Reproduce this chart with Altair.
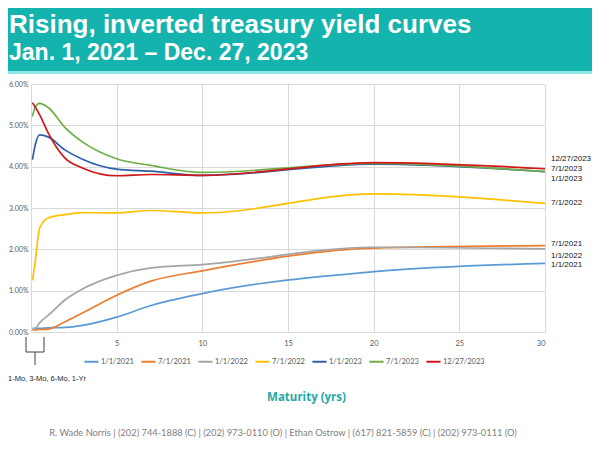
import altair as alt
import pandas as pd

# ---------------- data ----------------
maturities = [1/12, 0.25, 0.5, 1, 2, 3, 5, 7, 10, 20, 30]
series_names = ["1/1/2021", "7/1/2021", "1/1/2022", "7/1/2022",
                "1/1/2023", "7/1/2023", "12/27/2023"]
yields_2021_01 = [0.09, 0.09, 0.09, 0.10, 0.11, 0.16, 0.36, 0.64, 0.93, 1.46, 1.66]
yields_2021_07 = [0.05, 0.05, 0.06, 0.07, 0.25, 0.46, 0.89, 1.23, 1.48, 2.03, 2.09]
yields_2022_01 = [0.05, 0.08, 0.22, 0.40, 0.78, 1.04, 1.37, 1.55, 1.63, 2.05, 2.01]
yields_2022_07 = [1.25, 1.72, 2.51, 2.76, 2.84, 2.89, 2.88, 2.94, 2.88, 3.34, 3.11]
yields_2023_01 = [4.17, 4.53, 4.77, 4.72, 4.40, 4.18, 3.94, 3.89, 3.79, 4.06, 3.88]
yields_2023_07 = [5.22, 5.44, 5.53, 5.43, 4.94, 4.60, 4.19, 4.03, 3.86, 4.08, 3.88]
yields_2023_12 = [5.55, 5.44, 5.26, 4.82, 4.20, 3.97, 3.78, 3.81, 3.79, 4.10, 3.95]
all_yields = [yields_2021_01, yields_2021_07, yields_2022_01, yields_2022_07,
              yields_2023_01, yields_2023_07, yields_2023_12]

series_colors = ["#5B9BD5", "#ED7D31", "#A5A5A5", "#FFC000",
                 "#2F5FAA", "#70AD47", "#D01818"]
# level (in %) at which each right-hand label sits
label_levels = [1.62, 2.14, 1.84, 3.12, 3.70, 3.94, 4.19]

x_ticks = [0, 5, 10, 15, 20, 25, 30]
y_ticks = [0, 1, 2, 3, 4, 5, 6]

title_text = "Rising, inverted treasury yield curves"
subtitle_text = "Jan. 1, 2021 \u2013 Dec. 27, 2023"
bracket_text = "1-Mo, 3-Mo, 6-Mo, 1-Yr"
x_title = "Maturity (yrs)"
footer_text = ("R. Wade Norris | (202) 744-1888 (C) | (202) 973-0110 (O) | "
               "Ethan Ostrow | (617) 821-5859 (C) | (202) 973-0111 (O)")

rows = []
for name, vals in zip(series_names, all_yields):
    for m, v in zip(maturities, vals):
        rows.append({"date": name, "maturity": m, "yield": v})
df = pd.DataFrame(rows)

end_df = pd.DataFrame({
    "date": series_names,
    "maturity": [maturities[-1]] * len(series_names),
    "yield": label_levels,
})

# ---------------- encodings ----------------
TEAL = "#14B3AD"
x_enc = alt.X(
    "maturity:Q",
    scale=alt.Scale(domain=[0, 30], nice=False, zero=False),
    axis=alt.Axis(
        values=x_ticks, labelExpr="datum.value == 0 ? '' : datum.label",
        grid=True, gridColor="#D9D9D9", ticks=False, domain=False,
        labelFont="Lato", labelFontSize=7.5, labelColor="#595959", labelPadding=7,
        title=x_title, titleFont="Open Sans", titleFontSize=11.5,
        titleFontWeight="bold", titleColor="#1FA9A6",
        titleX=275, titleY=65, titleBaseline="middle",
    ),
)
y_enc = alt.Y(
    "yield:Q",
    scale=alt.Scale(domain=[0, 6], nice=False),
    axis=alt.Axis(
        values=y_ticks, labelExpr="format(datum.value, '.2f') + '%'",
        grid=True, gridColor="#D9D9D9", ticks=False, domain=False,
        labelFont="Lato", labelFontSize=7, labelColor="#595959", labelPadding=3,
        title=None,
    ),
)
color_enc = alt.Color(
    "date:N",
    scale=alt.Scale(domain=series_names, range=series_colors),
    sort=series_names,
    legend=alt.Legend(
        title=None, orient="none", legendX=52, legendY=269,
        direction="horizontal", symbolType="stroke", symbolSize=200,
        symbolStrokeWidth=2, labelFont="Lato", labelFontSize=7.5,
        labelColor="#595959", columnPadding=3, labelOffset=1, padding=0,
    ),
)

lines = alt.Chart(df).mark_line(interpolate="monotone", strokeWidth=1.7).encode(
    x=x_enc, y=y_enc, color=color_enc
)

end_labels = alt.Chart(end_df).mark_text(
    align="left", baseline="middle", dx=6, fontSize=8,
    font="Liberation Sans", color="#111111"
).encode(x=x_enc, y=y_enc, text="date:N")

one = alt.Data(values=[{}])


def deco():
    return alt.Chart(one)


header = deco().mark_rect(color=TEAL).encode(
    x=alt.value(-23), x2=alt.value(561), y=alt.value(-76), y2=alt.value(-13))
header_line = deco().mark_rect(color="#8EE6E6").encode(
    x=alt.value(-23), x2=alt.value(561), y=alt.value(-13), y2=alt.value(-10))
title = deco().mark_text(
    text=title_text, align="left", baseline="alphabetic", fontSize=26,
    fontWeight="bold", font="Liberation Sans", color="white"
).encode(x=alt.value(-22), y=alt.value(-51))
subtitle = deco().mark_text(
    text=subtitle_text, align="left", baseline="alphabetic", fontSize=23,
    fontWeight="bold", font="Liberation Sans", color="white"
).encode(x=alt.value(-22), y=alt.value(-24))

BR = "#404040"
br_left = deco().mark_rule(color=BR, strokeWidth=1).encode(
    x=alt.value(-5), y=alt.value(253), y2=alt.value(268))
br_right = deco().mark_rule(color=BR, strokeWidth=1).encode(
    x=alt.value(13), y=alt.value(253), y2=alt.value(268))
br_bottom = deco().mark_rule(color=BR, strokeWidth=1).encode(
    x=alt.value(-5), x2=alt.value(13), y=alt.value(268))
br_stem = deco().mark_rule(color=BR, strokeWidth=1).encode(
    x=alt.value(4), y=alt.value(268), y2=alt.value(281))
br_text = deco().mark_text(
    text=bracket_text, align="center", baseline="middle", fontSize=7.5,
    font="Liberation Sans", color="#262626"
).encode(x=alt.value(16), y=alt.value(295))

footer = deco().mark_text(
    text=footer_text, align="center", baseline="middle", fontSize=9.3,
    font="Lato", color="#808080"
).encode(x=alt.value(252), y=alt.value(349))

chart = alt.layer(
    header, header_line, title, subtitle,
    lines, end_labels,
    br_left, br_right, br_bottom, br_stem, br_text,
    footer,
).properties(
    width=514, height=248,
    autosize=alt.AutoSizeParams(type="none"),
    padding={"left": 23, "top": 76, "right": 47, "bottom": 110},
    background="white",
).configure_view(strokeWidth=0)

chart.save("out.html", embed_options={"renderer": "svg", "actions": False})
